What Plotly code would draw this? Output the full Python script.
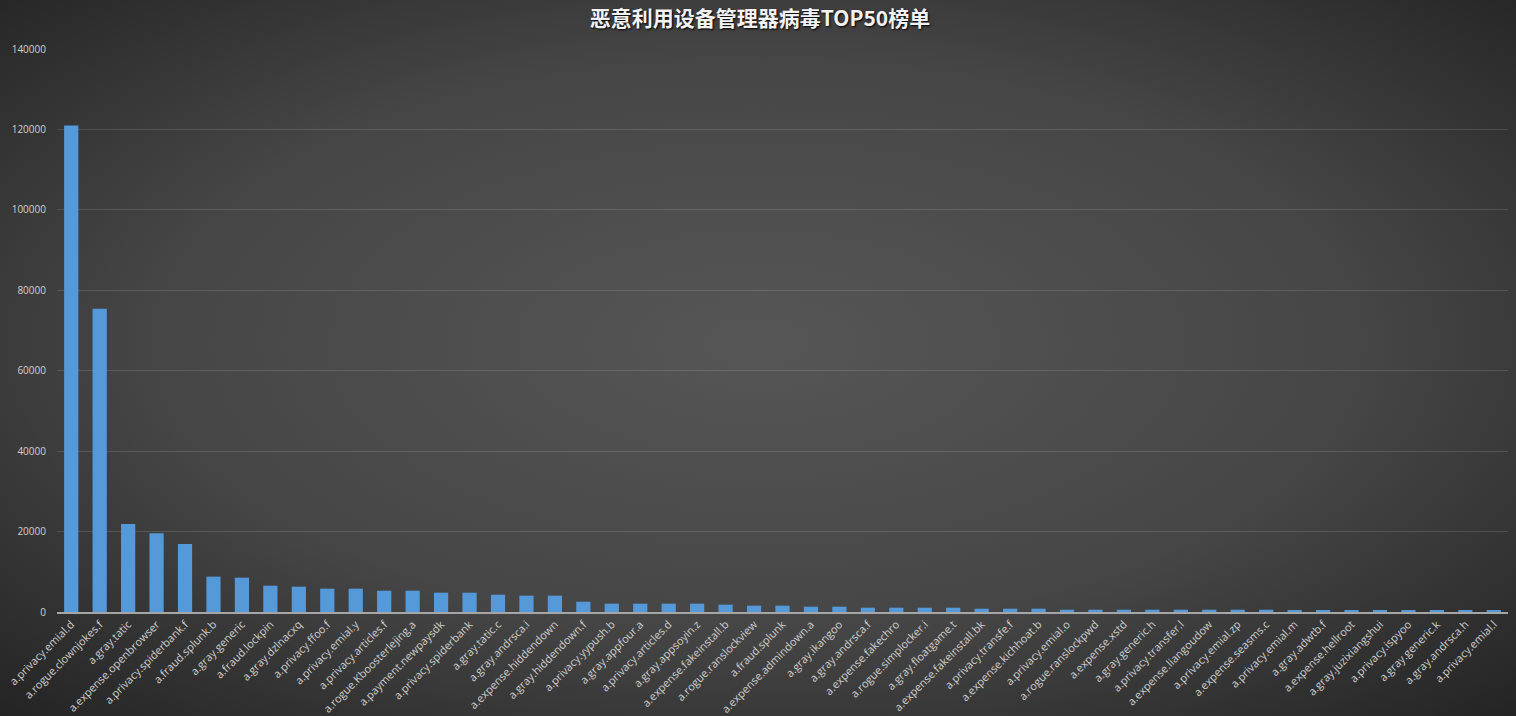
import base64
import plotly.graph_objects as go

# ---- data ----
categories = [
    "a.privacy.emial.d", "a.rogue.clownjokes.f", "a.gray.tatic", "a.expense.openbrowser",
    "a.privacy.spiderbank.f", "a.fraud.splunk.b", "a.gray.generic", "a.fraud.lockpin",
    "a.gray.dzlnacxq", "a.privacy.ffoo.f", "a.privacy.emial.y", "a.privacy.articles.f",
    "a.rogue.Kboosterlejing.a", "a.payment.newpaysdk", "a.privacy.spiderbank", "a.gray.tatic.c",
    "a.gray.andrsca.i", "a.expense.hiddendown", "a.gray.hiddendown.f", "a.privacy.yypush.b",
    "a.gray.appfour.a", "a.privacy.articles.d", "a.gray.appsoyin.z", "a.expense.fakeinstall.b",
    "a.rogue.ranslockview", "a.fraud.splunk", "a.expense.admindown.a", "a.gray.ikangoo",
    "a.gray.andrsca.f", "a.expense.fakechro", "a.rogue.simplocker.i", "a.gray.floatgame.t",
    "a.expense.fakeinstall.bk", "a.privacy.transfe.f", "a.expense.kichhoat.b", "a.privacy.emial.o",
    "a.rogue.ranslockpwd", "a.expense.xstd", "a.gray.generic.h", "a.privacy.transfer.l",
    "a.expense.liangoudow", "a.privacy.emial.zp", "a.expense.seasms.c", "a.privacy.emial.m",
    "a.gray.adwtb.f", "a.expense.hellroot", "a.gray.juzixiangshui", "a.privacy.ispyoo",
    "a.gray.generic.k", "a.gray.andrsca.h", "a.privacy.emial.l",
]
values = [
    121000, 75400, 21900, 19600, 16900, 8800, 8540, 6550, 6300, 5800,
    5800, 5300, 5300, 4800, 4800, 4300, 4060, 4060, 2560, 2070,
    2070, 2070, 2070, 1820, 1570, 1570, 1320, 1320, 1070, 1070,
    1070, 1070, 820, 820, 820, 570, 570, 570, 570, 570,
    570, 570, 570, 330, 330, 330, 330, 330, 330, 330, 330,
]
y_ticks = [0, 20000, 40000, 60000, 80000, 100000, 120000, 140000]
title_text = "恶意利用设备管理器病毒TOP50榜单"

W, H = 1516, 716
ML, MR, MT, MB = 57, 8, 49, 104
PW, PH = W - ML - MR, H - MT - MB

svg = (
    f'<svg xmlns="http://www.w3.org/2000/svg" width="{W}" height="{H}">'
    '<defs><radialGradient id="g" cx="0.5" cy="0.48" r="0.72">'
    '<stop offset="0" stop-color="#565656"/>'
    '<stop offset="0.55" stop-color="#464646"/>'
    '<stop offset="1" stop-color="#242424"/>'
    '</radialGradient></defs>'
    f'<rect width="{W}" height="{H}" fill="url(#g)"/></svg>'
)
bg_src = "data:image/svg+xml;base64," + base64.b64encode(svg.encode()).decode()

fig = go.Figure(
    go.Bar(
        x=categories,
        y=values,
        marker=dict(color="#5599d8", line=dict(width=0)),
        hoverinfo="x+y",
    )
)

fig.update_layout(
    width=W,
    height=H,
    margin=dict(l=ML, r=MR, t=MT, b=MB, pad=0, autoexpand=False),
    paper_bgcolor="#333333",
    plot_bgcolor="rgba(0,0,0,0)",
    bargap=0.5,
    showlegend=False,
    title=dict(
        text=title_text,
        x=760 / W,
        xref="container",
        xanchor="center",
        y=1 - 19 / H,
        yanchor="middle",
        font=dict(family="Noto Sans CJK SC", size=21, color="#f2f2f2",
                  weight="bold", shadow="1px 1px 2px #000000"),
    ),
    images=[dict(
        source=bg_src,
        xref="paper", yref="paper",
        x=-ML / PW, y=1 + MT / PH,
        sizex=W / PW, sizey=H / PH,
        xanchor="left", yanchor="top",
        sizing="stretch",
        layer="below",
    )],
    xaxis=dict(
        tickangle=-45,
        tickfont=dict(family="Open Sans", size=11, color="#d0d0d0"),
        showgrid=False,
        showline=True,
        linecolor="#a6a6a6",
        linewidth=1.5,
        ticks="",
        automargin=False,
        fixedrange=True,
    ),
    yaxis=dict(
        range=[0, 140000],
        tickvals=y_ticks,
        ticktext=[str(v) for v in y_ticks],
        tickfont=dict(family="Open Sans", size=10, color="#d0d0d0"),
        showgrid=True,
        gridcolor="rgba(255,255,255,0.13)",
        gridwidth=1,
        zeroline=False,
        showline=False,
        ticks="",
        ticklabelstandoff=10,
        automargin=False,
        fixedrange=True,
    ),
)

fig.write_html("out.html")
